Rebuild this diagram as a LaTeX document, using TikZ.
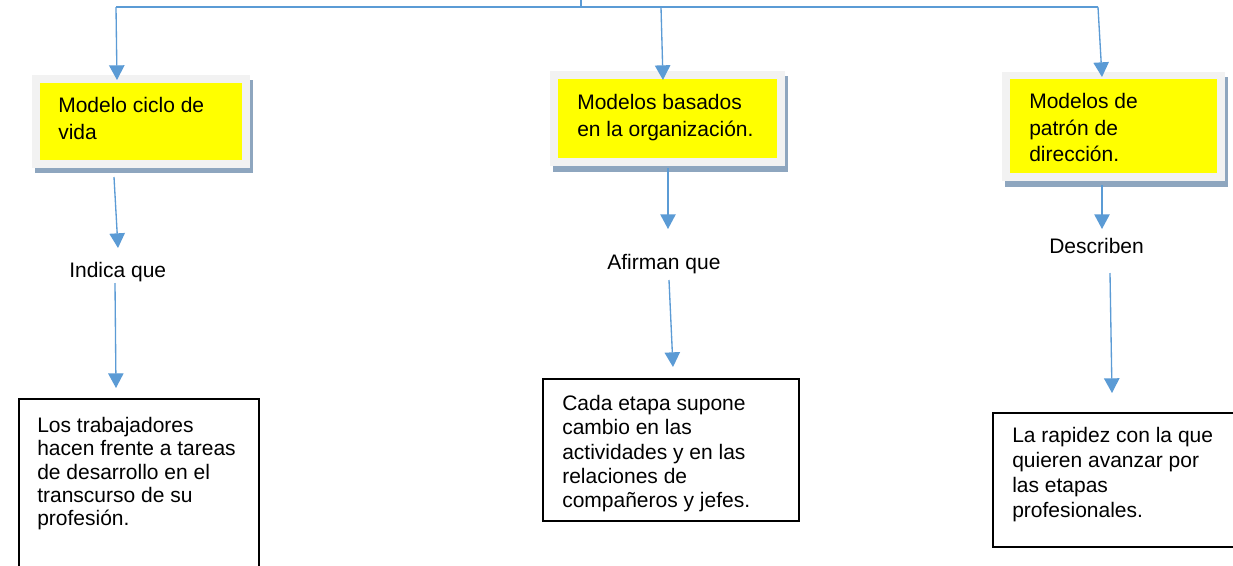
\documentclass[tikz,border=0pt]{standalone}
\usepackage{fontspec}
\setmainfont{Liberation Sans}
\usetikzlibrary{arrows.meta,fit}
\definecolor{arrowblue}{HTML}{5B9BD5}
\definecolor{framegrey}{HTML}{F2F2F2}
\definecolor{shadowgrey}{HTML}{8EA6BF}
\definecolor{boxyellow}{HTML}{FFFF00}
\begin{document}
\begin{tikzpicture}[x=0.75pt,y=-0.75pt,
  conn/.style={draw=arrowblue,line width=1pt},
  arr/.style={conn,-{Triangle[width=11.5pt,length=11pt]}},
  shadowbox/.style={fill=shadowgrey,inner sep=0pt,draw=none},
  framebox/.style={fill=framegrey,inner sep=0pt,draw=none},
  yellowbox/.style={fill=boxyellow,inner sep=0pt,draw=none},
  whitebox/.style={draw=black,line width=1.1pt,fill=white,inner sep=0pt},
  toptext/.style={anchor=north west,inner sep=0pt,align=left,font=\fontsize{15.75}{20}\selectfont},
  bottext/.style={anchor=north west,inner sep=0pt,align=left,font=\fontsize{15.75}{#1}\selectfont},
  labeltext/.style={anchor=base west,inner sep=0pt,font=\fontsize{15.75}{18}\selectfont}
]
\clip (0,0) rectangle (1233,565);
\fill[white] (0,0) rectangle (1233,565);

% top connector structure
\coordinate (tickTop) at (581,0);
\coordinate (tickBot) at (581,7);
\coordinate (hubL) at (116,7);
\coordinate (hubM) at (661,7);
\coordinate (hubR) at (1098,7);
\draw[conn] (tickTop) -- (tickBot);
\draw[conn] (hubL) -- (hubR);

% box 1
\node[shadowbox, fit={(35,80) (253,173)}] (s1) {};
\node[framebox, fit={(32,75) (250,168)}] (f1) {};
\node[yellowbox, fit={(40,83) (242,160)}] (y1) {};
\node[toptext] (t1) at (58,97.5) {Modelo ciclo de\\vida};

% box 2
\node[shadowbox, fit={(553,76) (788,172)}] (s2) {};
\node[framebox, fit={(550,71) (785,166)}] (f2) {};
\node[yellowbox, fit={(558,79) (777,158)}] (y2) {};
\node[toptext] (t2) at (577,94) {Modelos basados\\en la organización.};

% box 3
\node[shadowbox, fit={(1005,77) (1228,187)}] (s3) {};
\node[framebox, fit={(1002,72) (1225,181)}] (f3) {};
\node[yellowbox, fit={(1010,79) (1217,173)}] (y3) {};
\node[toptext] (t3) at (1029,93) {Modelos de\\patrón de\\dirección.};

% arrows from hub
\coordinate (in1) at (117,80);
\coordinate (in2) at (663,80);
\coordinate (in3) at (1102,77);
\draw[arr] (hubL) -- (in1);
\draw[arr] (hubM) -- (in2);
\draw[arr] (hubR) -- (in3);

% labels
\node[labeltext] (l1) at (69,277) {Indica que};
\node[labeltext] (l2) at (607,269) {Afirman que};
\node[labeltext] (l3) at (1049,253) {Describen};

% bottom boxes
\node[whitebox, fit={(19,399) (259,590)}] (b1) {};
\node[bottext=17.5] (bt1) at (37,417) {Los trabajadores\\hacen frente a tareas\\de desarrollo en el\\transcurso de su\\profesión.};
\node[whitebox, fit={(543,379) (799,521)}] (b2) {};
\node[bottext=18.2] (bt2) at (562,395) {Cada etapa supone\\cambio en las\\actividades y en las\\relaciones de\\compañeros y jefes.};
\node[whitebox, fit={(993,413) (1250,547)}] (b3) {};
\node[bottext=18.75] (bt3) at (1012,427) {La rapidez con la que\\quieren avanzar por\\las etapas\\profesionales.};

% arrows box -> label
\coordinate (o1) at (114,177);
\coordinate (a1) at (118,248);
\coordinate (o2) at (668,168);
\coordinate (a2) at (668,229);
\coordinate (o3) at (1102,185);
\coordinate (a3) at (1102,229);
\draw[arr] (o1) -- (a1);
\draw[arr] (o2) -- (a2);
\draw[arr] (o3) -- (a3);

% arrows label -> bottom box
\coordinate (p1) at (115,283);
\coordinate (q1) at (116,388);
\coordinate (p2) at (669,280);
\coordinate (q2) at (673,367);
\coordinate (p3) at (1110,273);
\coordinate (q3) at (1112,393);
\draw[arr] (p1) -- (q1);
\draw[arr] (p2) -- (q2);
\draw[arr] (p3) -- (q3);
\end{tikzpicture}
\end{document}
